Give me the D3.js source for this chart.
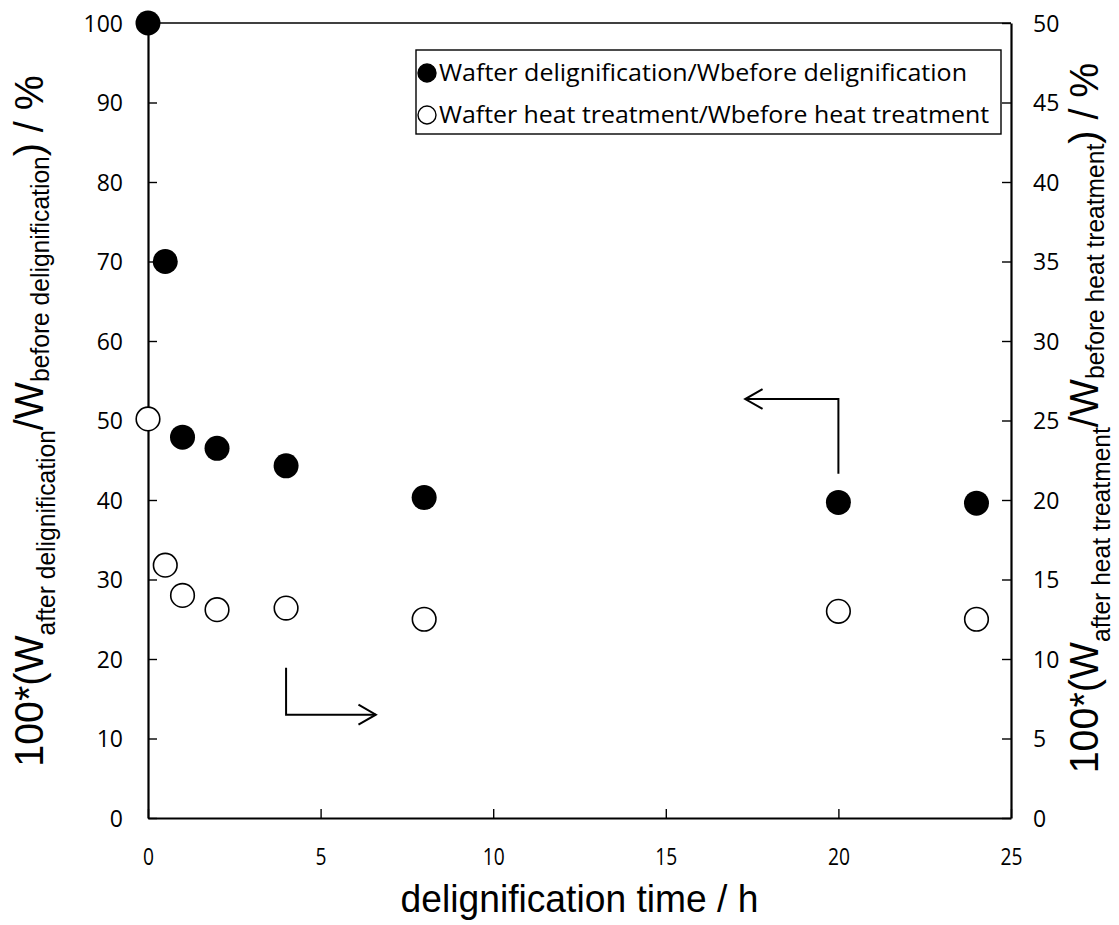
<!DOCTYPE html>
<html>
<head>
<meta charset="utf-8">
<script src="https://cdn.jsdelivr.net/npm/d3@7"></script>
<style>
  body { margin: 0; background: #fff; }
  svg { display: block; }
</style>
</head>
<body>
<svg id="chart" width="1119" height="925"></svg>
<script>
// ---- data ----
const timeH = [0, 0.5, 1, 2, 4, 8, 20, 24];
const delignified = [100, 70, 47.9, 46.5, 44.3, 40.3, 39.7, 39.6];      // left axis, %
const heatTreated = [25.1, 15.9, 14.0, 13.1, 13.2, 12.5, 13.0, 12.5];    // right axis, %
const xTicks = [0, 5, 10, 15, 20, 25];
const yLeftTicks = [0, 10, 20, 30, 40, 50, 60, 70, 80, 90, 100];
const yRightTicks = [0, 5, 10, 15, 20, 25, 30, 35, 40, 45, 50];
const legendLabels = ["Wafter delignification/Wbefore delignification", "Wafter heat treatment/Wbefore heat treatment"];
const xTitle = "delignification time / h";
const leftTitleParts = ["100*(W", "after delignification", "/W", "before delignification", ") / %"];
const rightTitleParts = ["100*(W", "after heat treatment", "/W", "before heat treatment", ") / %"];
// annotation arrows in data coordinates [x, y] (left-axis units)
const arrowToLeft = [[20, 43.3], [20, 52.7], [17.3, 52.7]];
const arrowToRight = [[4, 18.9], [4, 13.0], [6.6, 13.0]];

// ---- layout ----
const svg = d3.select("#chart");
const L = 148, R = 1011, T = 23, B = 818;
const x = d3.scaleLinear().domain([0, 25]).range([L, R]);
const yL = d3.scaleLinear().domain([0, 100]).range([B, T]);
const yR = d3.scaleLinear().domain([0, 50]).range([B, T]);

// frame top line
svg.append("line").attr("x1", L).attr("x2", R).attr("y1", T).attr("y2", T)
  .attr("stroke", "#000").attr("stroke-width", 1.4);

// axes
const tickFont = "'Open Sans', sans-serif";
const gx = svg.append("g").attr("transform", `translate(0,${B})`)
  .call(d3.axisBottom(x).tickValues(xTicks).tickSizeInner(-9).tickSizeOuter(0).tickPadding(30).tickFormat(d3.format("d")));
const gl = svg.append("g").attr("transform", `translate(${L},0)`)
  .call(d3.axisLeft(yL).tickValues(yLeftTicks).tickSizeInner(-9).tickSizeOuter(0).tickPadding(25).tickFormat(d3.format("d")));
const gr = svg.append("g").attr("transform", `translate(${R},0)`)
  .call(d3.axisRight(yR).tickValues(yRightTicks).tickSizeInner(-9).tickSizeOuter(0).tickPadding(22).tickFormat(d3.format("d")));
[gx, gl, gr].forEach(g => {
  g.select(".domain").attr("stroke", "#000").attr("stroke-width", 2.2);
  g.selectAll(".tick line").attr("stroke", "#000").attr("stroke-width", 1.4);
  g.selectAll(".tick text").attr("fill", "#000").style("font-family", tickFont).style("font-size", "23px");
});
gx.selectAll(".tick text").attr("transform", "scale(0.8,1)").style("font-size", "24px");
gl.selectAll(".tick text").attr("dy", "0.36em");
gr.selectAll(".tick text").attr("dy", "0.36em");

// arrows
const line = d3.line().x(d => x(d[0])).y(d => yL(d[1]));
function arrow(pts) {
  svg.append("path").attr("d", line(pts)).attr("fill", "none").attr("stroke", "#000").attr("stroke-width", 2);
  const n = pts.length;
  const tip = [x(pts[n - 1][0]), yL(pts[n - 1][1])];
  const prev = [x(pts[n - 2][0]), yL(pts[n - 2][1])];
  const ang = Math.atan2(tip[1] - prev[1], tip[0] - prev[0]);
  const len = 20, spread = 0.52;
  const p1 = [tip[0] - len * Math.cos(ang - spread), tip[1] - len * Math.sin(ang - spread)];
  const p2 = [tip[0] - len * Math.cos(ang + spread), tip[1] - len * Math.sin(ang + spread)];
  svg.append("path").attr("d", `M${p1[0]},${p1[1]}L${tip[0]},${tip[1]}L${p2[0]},${p2[1]}`)
    .attr("fill", "none").attr("stroke", "#000").attr("stroke-width", 2);
}
arrow(arrowToLeft);
arrow(arrowToRight);

// points
svg.append("g").selectAll("circle").data(timeH).join("circle")
  .attr("cx", d => x(d)).attr("cy", (d, i) => yL(delignified[i])).attr("r", 12.5)
  .attr("fill", "#000");
svg.append("g").selectAll("circle").data(timeH).join("circle")
  .attr("cx", d => x(d)).attr("cy", (d, i) => yR(heatTreated[i])).attr("r", 11.8)
  .attr("fill", "#fff").attr("stroke", "#000").attr("stroke-width", 1.6);

// legend
const lg = svg.append("g");
lg.append("rect").attr("x", 416).attr("y", 50).attr("width", 585).attr("height", 84)
  .attr("fill", "#fff").attr("stroke", "#000").attr("stroke-width", 1.4);
const legendWidths = [528, 550];
legendLabels.forEach((t, i) => {
  const cy = 73 + i * 42;
  lg.append("circle").attr("cx", 427).attr("cy", cy).attr("r", 9)
    .attr("fill", i === 0 ? "#000" : "#fff").attr("stroke", "#000").attr("stroke-width", 1.4);
  lg.append("text").attr("x", 439).attr("y", cy + 8).text(t)
    .style("font-family", tickFont).style("font-size", "23px")
    .attr("textLength", legendWidths[i]).attr("lengthAdjust", "spacingAndGlyphs");
});

// x title
const xt = svg.append("text").attr("text-anchor", "middle").text(xTitle)
  .style("font-family", "'Liberation Sans', Arial, sans-serif").style("font-size", "38px");
const xtw = xt.node().getComputedTextLength();
xt.attr("transform", `translate(${(L + R) / 2},912) scale(${358 / xtw},1)`);

// y titles
function yTitle(parts, bx, cy, target, sxFixed) {
  const t = svg.append("text").attr("text-anchor", "middle")
    .style("font-family", "'Liberation Sans', Arial, sans-serif");
  t.append("tspan").text(parts[0]).style("font-size", "40px");
  t.append("tspan").text(parts[1]).style("font-size", "25px").attr("dy", 12);
  t.append("tspan").text(parts[2]).style("font-size", "40px").attr("dy", -12);
  t.append("tspan").text(parts[3]).style("font-size", "25px").attr("dy", 6);
  t.append("tspan").text(parts[4]).style("font-size", "40px").attr("dy", -6);
  const w = t.node().getComputedTextLength();
  const sx = sxFixed || target / w;
  t.attr("transform", `translate(${bx},${cy}) rotate(-90) scale(${sx},1)`);
  return sx;
}
const sxL = yTitle(leftTitleParts, 43, 421, 692);
yTitle(rightTitleParts, 1098, 418, null, sxL);
</script>
</body>
</html>
